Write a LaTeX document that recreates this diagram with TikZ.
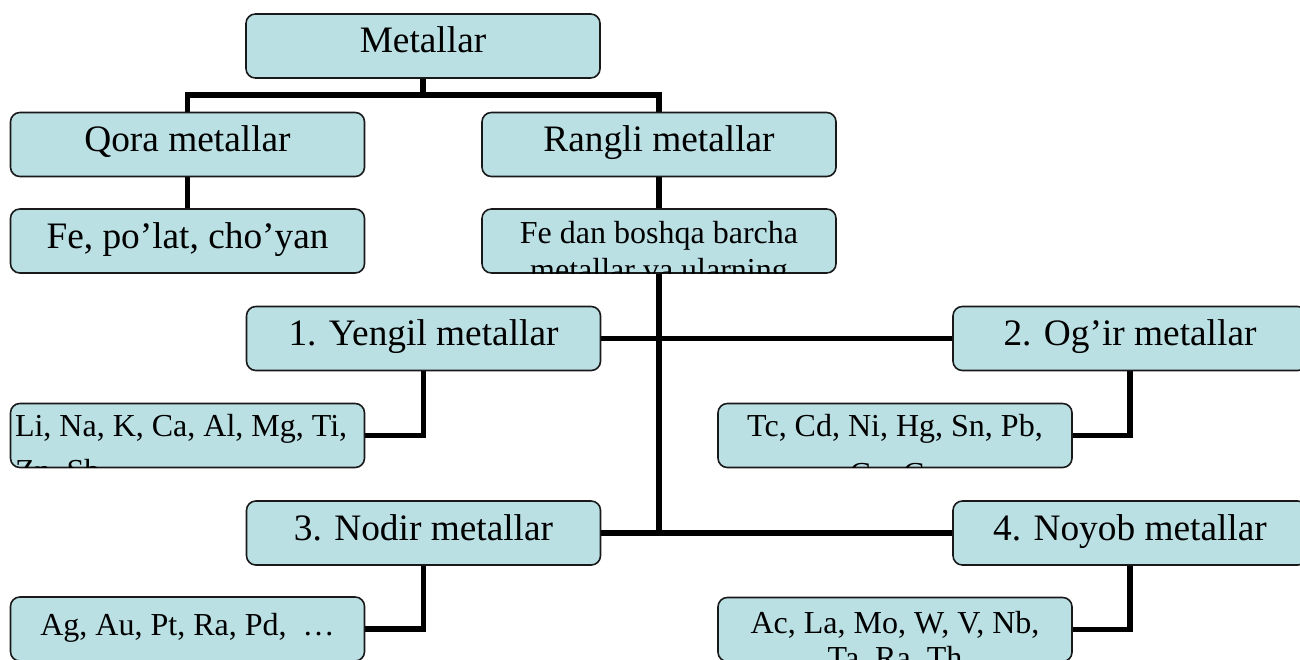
\documentclass[tikz,border=0pt]{standalone}
\usepackage{fontspec}
\setmainfont{Liberation Serif}
\definecolor{boxfill}{RGB}{186,224,228}
\pgfdeclarelayer{background}
\pgfsetlayers{background,main}
\begin{document}
\begin{tikzpicture}[x=0.75pt,y=-0.75pt,
  box/.style={draw=black!90, line width=1.2pt, fill=boxfill, rounded corners=7pt,
    minimum width=265.5pt, minimum height=48pt, inner sep=0pt, outer sep=0pt},
  big/.style={font=\fontsize{28}{32}\selectfont, text height=20pt, text depth=9.5pt},
  small/.style={font=\fontsize{24}{28}\selectfont, text height=18pt, text depth=9pt},
  conn/.style={line width=4pt, line join=miter},
  overflow/.style={inner sep=0pt, outer sep=0pt}]

\useasboundingbox (0,0) rectangle (1300,660);
\clip (0,0) rectangle (1300,660);

% top levels
\node[box,big] (metallar) at (423,46)    {Metallar};
\node[box,big] (qora)     at (187.5,144.5) {Qora metallar};
\node[box,big] (rangli)   at (659,144.5) {Rangli metallar};
\node[box,big] (fepolat)  at (187.5,241) {Fe, po’lat, cho’yan};
\node[box]     (fedan)    at (659,241)   {};

% groups of non-ferrous metals
\node[box,big] (yengil) at (423.5,338.5) {1. Yengil metallar};
\node[box,big] (ogir)   at (1130,338.5)  {2. Og’ir metallar};
\node[box,big] (nodir)  at (423.5,533)   {3. Nodir metallar};
\node[box,big] (noyob)  at (1130,533)    {4. Noyob metallar};

% element lists
\node[box]       (li) at (187.5,435.5) {};
\node[box]       (tc) at (895,435.5)   {};
\node[box,small] (ag) at (187.5,629)   {Ag, Au, Pt, Ra, Pd,\ \ …};
\node[box]       (ac) at (895,629.5)   {};

% texts that overflow their boxes are cut at the box outline
\begin{scope}
  \clip[rounded corners=7pt] (fedan.south west) rectangle (fedan.north east);
  \node[overflow, anchor=north, align=center, font=\fontsize{24}{27.75}\selectfont]
    (fedantext) at (659,221) {Fe dan boshqa barcha\\metallar va ularning};
\end{scope}
\begin{scope}
  \clip[rounded corners=7pt] (li.south west) rectangle (li.north east);
  \node[overflow, anchor=north west, align=left, font=\fontsize{24}{34}\selectfont]
    (litext) at (15,414) {Li, Na, K, Ca, Al, Mg, Ti,\\Zn, Sb};
\end{scope}
\begin{scope}
  \clip[rounded corners=7pt] (tc.south west) rectangle (tc.north east);
  \node[overflow, anchor=north, align=center, font=\fontsize{24}{36}\selectfont]
    (tctext) at (895,414) {Tc, Cd, Ni, Hg, Sn, Pb,\\Cu, Co};
\end{scope}
\begin{scope}
  \clip[rounded corners=7pt] (ac.south west) rectangle (ac.north east);
  \node[overflow, anchor=north, align=center, font=\fontsize{24}{26.25}\selectfont]
    (actext) at (895,611) {Ac, La, Mo, W, V, Nb,\\Ta, Ra, Th};
\end{scope}

% connectors, drawn beneath the boxes
\begin{pgfonlayer}{background}
  \coordinate (split) at (423,95);
  \coordinate (trunkend) at (659,533);
  \draw[conn] (metallar.south) -- (split);
  \draw[conn] (qora.north) |- (split) -| (rangli.north);
  \draw[conn] (qora.south) -- (fepolat.north);
  \draw[conn] (rangli.south) -- (fedan.north);
  \draw[conn] (fedan.south) -- (trunkend);
  \draw[conn] (yengil.east) -- (ogir.west);
  \draw[conn] (nodir.east) -- (noyob.west);
  \draw[conn] (yengil.south) |- (li.east);
  \draw[conn] (ogir.south) |- (tc.east);
  \draw[conn] (nodir.south) |- (ag.east);
  \draw[conn] (noyob.south) |- (ac.east);
\end{pgfonlayer}
\end{tikzpicture}
\end{document}
